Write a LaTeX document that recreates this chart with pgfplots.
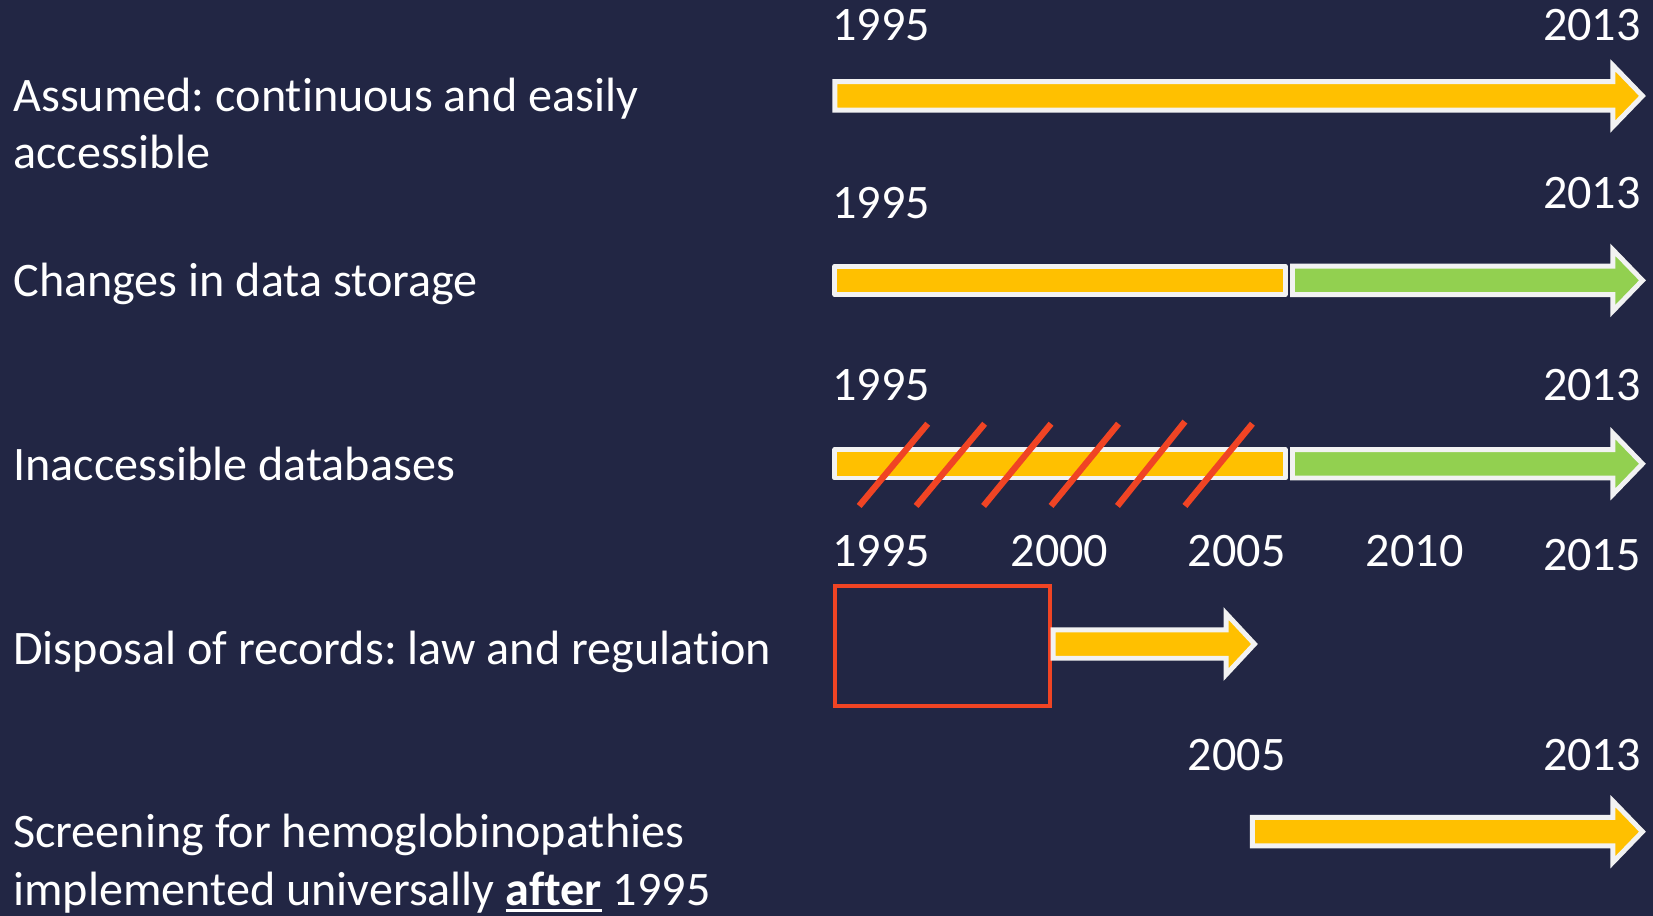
\documentclass[border=0pt]{standalone}
\usepackage{fontspec}
\setmainfont{Carlito}[Ligatures={NoCommon}]
\usepackage{pgfplots}
\pgfplotsset{compat=1.18}
\frenchspacing
\newcommand{\ul}[1]{\setbox0\hbox{#1}\rlap{\rule[-2pt]{\wd0}{1pt}}\box0\relax}

\definecolor{bg}{RGB}{34,38,68}
\definecolor{ylw}{RGB}{255,192,0}
\definecolor{grn}{RGB}{146,208,80}
\definecolor{rd}{RGB}{240,68,36}
\definecolor{edge}{RGB}{242,242,242}

\begin{document}
\begin{tikzpicture}
\begin{axis}[
    width=16.53cm, height=9.16cm, scale only axis,
    xmin=0, xmax=1568, ymin=0, ymax=869, y dir=reverse,
    hide axis, clip=true,
    every axis plot/.append style={mark=none},
    nodes={text=white, inner sep=0pt, font=\fontsize{13.7}{16.4}\selectfont},
    ]
    % background
    \addplot[fill=bg, draw=none] coordinates {(0,0) (1568,0) (1568,869) (0,869)} -- cycle;

    % row 1: assumed continuous
    \addplot[fill=ylw, draw=edge, line width=1.4pt] coordinates {
        (792,77.5) (1530,77.5) (1530,62) (1558,91) (1530,120) (1530,104.5) (792,104.5)} -- cycle;

    % row 2: changes in data storage
    \addplot[fill=ylw, draw=edge, line width=1.4pt, line join=round] coordinates {
        (792,252.5) (1219,252.5) (1219,279.5) (792,279.5)} -- cycle;
    \addplot[fill=grn, draw=edge, line width=1.4pt] coordinates {
        (1226,252.5) (1530,252.5) (1530,237) (1558,266) (1530,295) (1530,279.5) (1226,279.5)} -- cycle;

    % row 3: inaccessible databases
    \addplot[fill=ylw, draw=edge, line width=1.4pt, line join=round] coordinates {
        (792,426.5) (1219,426.5) (1219,453.5) (792,453.5)} -- cycle;
    \addplot[fill=grn, draw=edge, line width=1.4pt] coordinates {
        (1226,426.5) (1530,426.5) (1530,411) (1558,440) (1530,469) (1530,453.5) (1226,453.5)} -- cycle;
    \addplot[rd, line width=1.8pt] coordinates {(815,480) (880,402)};
    \addplot[rd, line width=1.8pt] coordinates {(869,480) (934,402)};
    \addplot[rd, line width=1.8pt] coordinates {(933,480) (997,402)};
    \addplot[rd, line width=1.8pt] coordinates {(997,480) (1061,402)};
    \addplot[rd, line width=1.8pt] coordinates {(1060,480) (1124,400)};
    \addplot[rd, line width=1.8pt] coordinates {(1124,480) (1188,402)};

    % row 4: disposal of records
    \addplot[draw=rd, line width=1.2pt] coordinates {(792,556) (996,556) (996,670) (792,670)} -- cycle;
    \addplot[fill=ylw, draw=edge, line width=1.4pt] coordinates {
        (999,597.5) (1163,597.5) (1163,582) (1190,611) (1163,640) (1163,624.5) (999,624.5)} -- cycle;

    % row 5: screening
    \addplot[fill=ylw, draw=edge, line width=1.4pt] coordinates {
        (1188,775.5) (1530,775.5) (1530,760) (1558,789) (1530,818) (1530,802.5) (1188,802.5)} -- cycle;

    % left labels
    \node[anchor=base west] at (axis cs:12,106) {Assumed: continuous and easily};
    \node[anchor=base west] at (axis cs:12,160) {accessible};
    \node[anchor=base west] at (axis cs:12,281) {Changes in data storage};
    \node[anchor=base west] at (axis cs:12,456) {Inaccessible databases};
    \node[anchor=base west] at (axis cs:12,630) {Disposal of records: law and regulation};
    \node[anchor=base west] at (axis cs:12,804) {Screening for hemoglobinopathies};
    \node[anchor=base west] at (axis cs:12,859) {implemented universally \ul{\textbf{after}} 1995};

    % year labels
    \node[anchor=base] at (axis cs:836,38) {1995};
    \node[anchor=base] at (axis cs:1510,38) {2013};
    \node[anchor=base] at (axis cs:836,207) {1995};
    \node[anchor=base] at (axis cs:1510,198) {2013};
    \node[anchor=base] at (axis cs:836,380) {1995};
    \node[anchor=base] at (axis cs:1510,380) {2013};
    \node[anchor=base] at (axis cs:836,537) {1995};
    \node[anchor=base] at (axis cs:1005,537) {2000};
    \node[anchor=base] at (axis cs:1173,537) {2005};
    \node[anchor=base] at (axis cs:1342,537) {2010};
    \node[anchor=base] at (axis cs:1510,541) {2015};
    \node[anchor=base] at (axis cs:1173,731) {2005};
    \node[anchor=base] at (axis cs:1510,731) {2013};
\end{axis}
\end{tikzpicture}
\end{document}
